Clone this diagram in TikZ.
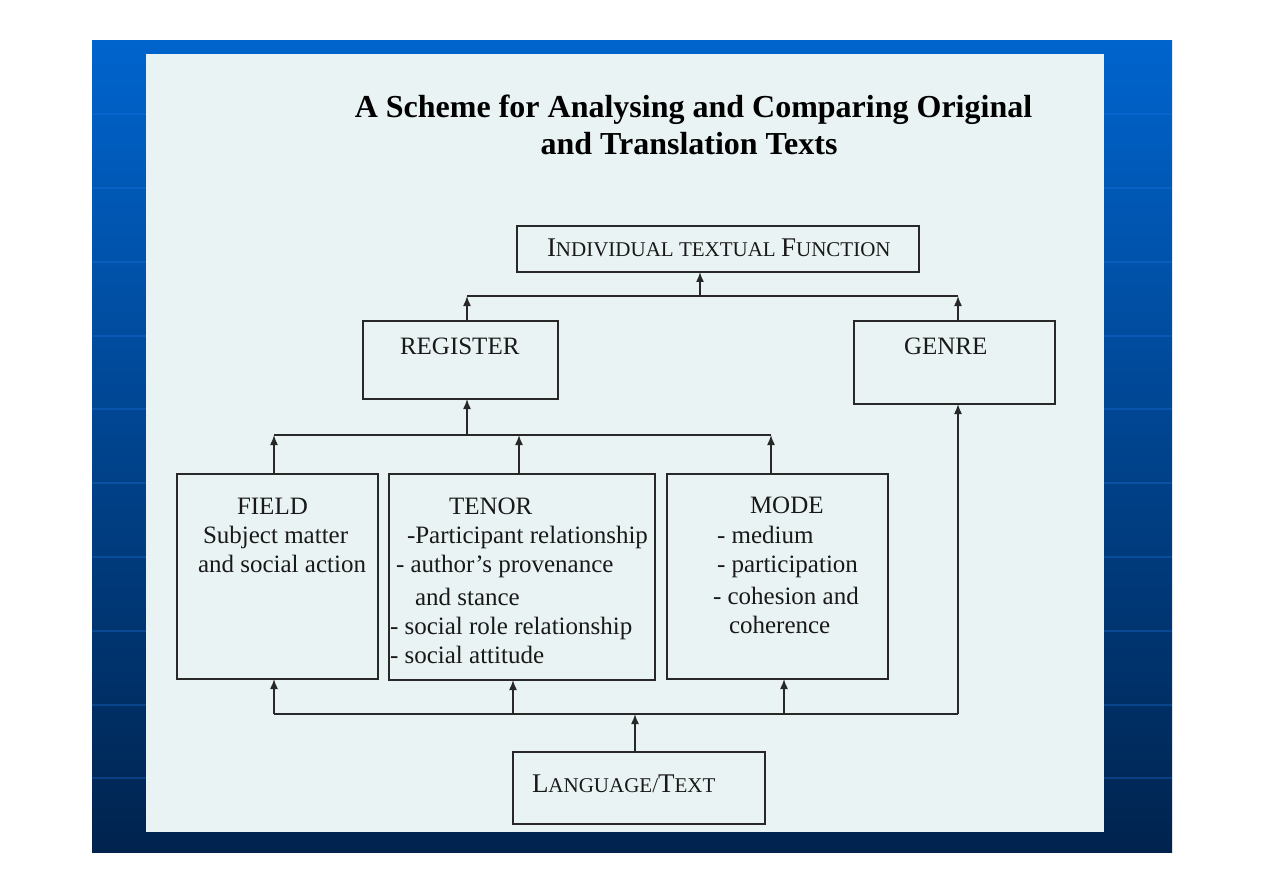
\documentclass[tikz,border=0pt]{standalone}
\usepackage{fontspec}
\setmainfont{Liberation Serif}
\usetikzlibrary{arrows.meta}
\definecolor{panel}{RGB}{234,243,243}
\definecolor{slidetop}{RGB}{0,100,205}
\definecolor{slidebot}{RGB}{0,35,78}
\definecolor{gridline}{RGB}{30,120,230}
\definecolor{ink}{RGB}{40,40,40}
\newcommand\capBig[1]{{\fontsize{27pt}{30pt}\selectfont #1}}
\newcommand\capSmall[1]{{\fontsize{21pt}{24pt}\selectfont #1}}
\begin{document}
\begin{tikzpicture}[x=1pt,y=-1pt,
  box/.style={draw=ink, line width=1.6pt, inner sep=0pt, outer sep=0pt},
  txt/.style={anchor=base west, inner sep=0pt, outer sep=0pt, font=\fontsize{25pt}{29pt}\selectfont, text=black!90},
  ttl/.style={anchor=base, inner sep=0pt, outer sep=0pt, font=\fontsize{32pt}{37pt}\selectfont\bfseries, text=black},
  conn/.style={draw=ink, line width=1.5pt},
  arr/.style={conn, -{Latex[length=10pt,width=8pt]}},
]
\useasboundingbox (0,0) rectangle (1263,893);
\fill[white] (0,0) rectangle (1263,893);
\shade[top color=slidetop, bottom color=slidebot] (92,41) rectangle (1172,852);
\foreach \yy in {114,188,262,336,409,483,557,631,705,778}
  \draw[gridline, opacity=0.3, line width=1.5pt] (92,\yy) -- (1172,\yy);
\fill[panel] (146,54) rectangle (1104,832);

% title
\node[ttl] (title1) at (693.5,118) {A Scheme for Analysing and Comparing Original};
\node[ttl] (title2) at (689,155) {and Translation Texts};

% boxes
\node[box, minimum width=402pt, minimum height=46pt] (ind) at (718,249) {};
\node[box, minimum width=195pt, minimum height=78pt] (reg) at (460.5,360) {};
\node[box, minimum width=201pt, minimum height=83pt] (gen) at (954.5,362.5) {};
\node[box, minimum width=201pt, minimum height=205pt] (field) at (277.5,576.5) {};
\node[box, minimum width=266pt, minimum height=206pt] (tenor) at (522,577) {};
\node[box, minimum width=221pt, minimum height=205pt] (mode) at (777.5,576.5) {};
\node[box, minimum width=252pt, minimum height=72pt] (lang) at (639,788) {};

% box texts
\node[txt] (indT) at (547,257) {\capBig{I}\capSmall{NDIVIDUAL TEXTUAL }\capBig{F}\capSmall{UNCTION}};
\node[txt] (regT) at (400,354) {REGISTER};
\node[txt] (genT) at (904,354) {GENRE};
\node[txt] (fieldT1) at (237,514) {FIELD};
\node[txt] (fieldT2) at (203,543) {Subject matter};
\node[txt] (fieldT3) at (198,572) {and social action};
\node[txt] (tenorT1) at (449,514) {TENOR};
\node[txt] (tenorT2) at (407,543) {-Participant relationship};
\node[txt] (tenorT3) at (396,572) {- author’s provenance};
\node[txt] (tenorT4) at (415,605) {and stance};
\node[txt] (tenorT5) at (390,634) {- social role relationship};
\node[txt] (tenorT6) at (390,663) {- social attitude};
\node[txt] (modeT1) at (750,513) {MODE};
\node[txt] (modeT2) at (717,543) {- medium};
\node[txt] (modeT3) at (717,572) {- participation};
\node[txt] (modeT4) at (713,604) {- cohesion and};
\node[txt] (modeT5) at (729,633) {coherence};
\node[txt] (langT) at (532,792) {\capBig{L}\capSmall{ANGUAGE/}\capBig{T}\capSmall{EXT}};

% top bus
\coordinate (tb) at (700,296);
\coordinate (tbl) at (467,296);
\coordinate (tbr) at (958,296);
\draw[conn] (tbl) -- (tbr);
\draw[arr] (reg.north -| tbl) -- (tbl);
\draw[arr] (gen.north -| tbr) -- (tbr);
\draw[arr] (tb) -- (ind.south -| tb);

% middle bus
\coordinate (mbl) at (274,435);
\coordinate (mbr) at (771,435);
\coordinate (mb) at (467,435);
\coordinate (mbt) at (519,435);
\draw[conn] (mbl) -- (mbr);
\draw[arr] (field.north -| mbl) -- (mbl);
\draw[arr] (tenor.north -| mbt) -- (mbt);
\draw[arr] (mode.north -| mbr) -- (mbr);
\draw[arr] (mb) -- (reg.south -| mb);

% bottom bus
\coordinate (bbl) at (274,714);
\coordinate (bbr) at (958,714);
\coordinate (bbc) at (635,714);
\coordinate (bbt) at (513,714);
\coordinate (bbm) at (784,714);
\draw[conn] (bbl) -- (bbr);
\draw[arr] (bbl) -- (field.south -| bbl);
\draw[arr] (bbt) -- (tenor.south -| bbt);
\draw[arr] (bbm) -- (mode.south -| bbm);
\draw[arr] (bbr) -- (gen.south -| bbr);
\draw[arr] (lang.north -| bbc) -- (bbc);
\end{tikzpicture}
\end{document}
